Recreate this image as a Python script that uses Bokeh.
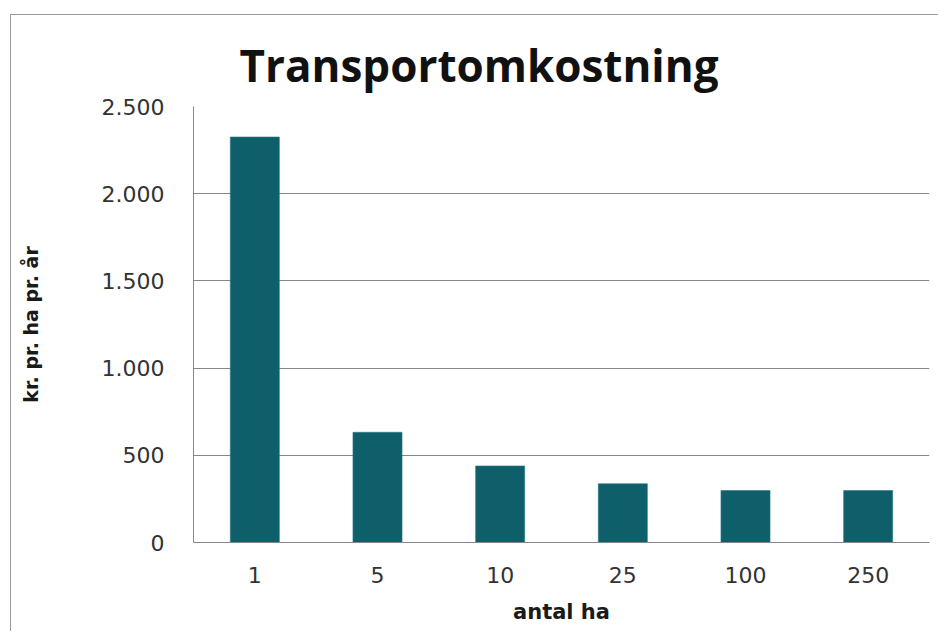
from bokeh.plotting import figure
from bokeh.embed import file_html
from bokeh.resources import INLINE
from bokeh.models import FixedTicker

categories = ["1", "5", "10", "25", "100", "250"]
values = [2325, 632, 439, 337, 298, 298]
y_ticks = [0, 500, 1000, 1500, 2000, 2500]
y_tick_labels = ["0", "500", "1.000", "1.500", "2.000", "2.500"]

p = figure(x_range=categories, y_range=(0, 2500), width=928, height=617,
           output_backend="svg", toolbar_location=None,
           min_border_left=182, min_border_right=10, min_border_top=91, min_border_bottom=90,
           title="Transportomkostning")
p.margin = (14, 0, 0, 10)
p.styles = {"border-left": "1px solid #9a9a9a", "border-top": "1px solid #9a9a9a"}

p.vbar(x=categories, top=values, width=0.4, fill_color="#0f5f6b", line_color="#2a7a86", line_width=0.6)

p.x_range.range_padding = 0
p.outline_line_color = None
p.background_fill_color = "white"
p.border_fill_color = "white"

p.title.text_font = "Open Sans"
p.title.text_font_size = "44px"
p.title.text_font_style = "bold"
p.title.text_color = "#111111"
p.title.align = "left"
p.title.offset = 46
p.title.standoff = 23

p.xgrid.grid_line_color = None
p.ygrid.grid_line_color = "#868686"
p.ygrid.grid_line_width = 1
p.yaxis.ticker = FixedTicker(ticks=y_ticks)
p.yaxis.major_label_overrides = {t: l for t, l in zip(y_ticks, y_tick_labels)}

for ax in (p.xaxis, p.yaxis):
    ax.axis_line_color = "#868686"
    ax.major_tick_line_color = None
    ax.minor_tick_line_color = None
    ax.major_tick_out = 0
    ax.major_tick_in = 0
    ax.major_label_text_font = "DejaVu Sans"
    ax.major_label_text_font_size = "22px"
    ax.major_label_text_color = "#333333"
    ax.axis_label_text_font = "DejaVu Sans"
    ax.axis_label_text_font_style = "bold"
    ax.axis_label_text_color = "#1a1a1a"

p.yaxis.major_label_standoff = 29
p.xaxis.major_label_standoff = 24
p.yaxis.axis_label = "kr. pr. ha pr. år"
p.yaxis.axis_label_text_font_size = "19px"
p.yaxis.axis_label_standoff = 57
p.xaxis.axis_label = "antal ha"
p.xaxis.axis_label_text_font_size = "21px"
p.xaxis.axis_label_standoff = 14

open("out.html", "w").write(file_html(p, INLINE))
